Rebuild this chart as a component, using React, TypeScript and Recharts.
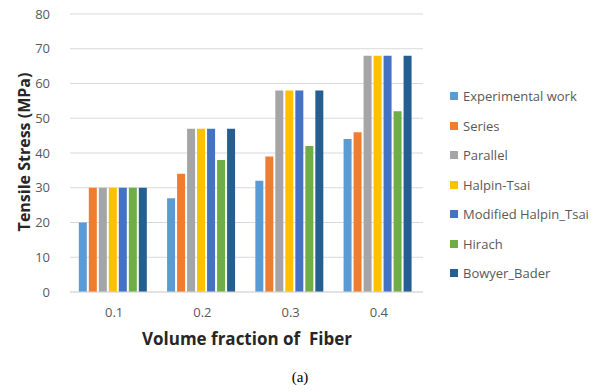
import { BarChart, Bar, XAxis, YAxis, CartesianGrid } from "recharts"

const categories = ["0.1", "0.2", "0.3", "0.4"]
const seriesNames = [
  "Experimental work",
  "Series",
  "Parallel",
  "Halpin-Tsai",
  "Modified Halpin_Tsai",
  "Hirach",
  "Bowyer_Bader",
]
const colors = ["#5B9BD5", "#ED7D31", "#A5A5A5", "#FFC000", "#4472C4", "#70AD47", "#255E91"]

const experimental = [20, 27, 32, 44]
const series = [30, 34, 39, 46]
const parallel = [30, 47, 58, 68]
const halpinTsai = [30, 47, 58, 68]
const modifiedHalpin = [30, 47, 58, 68]
const hirach = [30, 38, 42, 52]
const bowyerBader = [30, 47, 58, 68]

const yTicks = [0, 10, 20, 30, 40, 50, 60, 70, 80]

const values = [experimental, series, parallel, halpinTsai, modifiedHalpin, hirach, bowyerBader]

const data = categories.map((c, i) => {
  const row: Record<string, string | number> = { name: c }
  seriesNames.forEach((s, j) => {
    row[s] = values[j][i]
  })
  return row
})

const font = "'Open Sans', 'Liberation Sans', sans-serif"

export default function App() {
  return (
    <div
      style={{
        position: "absolute",
        left: 0,
        top: 0,
        width: 606,
        height: 392,
        background: "#fff",
        fontFamily: font,
      }}
    >
      <BarChart
        width={440}
        height={330}
        data={data}
        margin={{ top: 14, right: 17, bottom: 8, left: 20 }}
        barCategoryGap="10%"
        barGap={2}
      >
        <CartesianGrid vertical={false} stroke="#d9d9d9" />
        <XAxis
          dataKey="name"
          axisLine={{ stroke: "#d9d9d9" }}
          tickLine={false}
          height={30}
          tickMargin={10}
          tick={{ fill: "#595959", fontSize: 13, fontFamily: font }}
        />
        <YAxis
          width={50}
          domain={[0, 80]}
          ticks={yTicks}
          axisLine={false}
          tickLine={false}
          tickMargin={14}
          tick={{ fill: "#595959", fontSize: 13, fontFamily: font }}
        />
        {seriesNames.map((s, i) => (
          <Bar key={s} dataKey={s} fill={colors[i]} isAnimationActive={false} />
        ))}
      </BarChart>
      <div
        style={{
          position: "absolute",
          left: 24,
          top: 152,
          transform: "translate(-50%, -50%) rotate(-90deg)",
          fontSize: 16,
          fontWeight: 700,
          color: "#262626",
          whiteSpace: "nowrap",
        }}
      >
        Tensile Stress (MPa)
      </div>
      <div
        style={{
          position: "absolute",
          left: 247,
          top: 338,
          transform: "translate(-50%, -50%)",
          fontSize: 17,
          fontWeight: 700,
          color: "#262626",
          whiteSpace: "nowrap",
        }}
      >
        Volume fraction of&nbsp; Fiber
      </div>
      <div
        style={{
          position: "absolute",
          left: 300,
          top: 377,
          transform: "translate(-50%, -50%)",
          fontSize: 15,
          fontFamily: "'Liberation Serif', serif",
          color: "#000",
        }}
      >
        (a)
      </div>
      {seriesNames.map((s, i) => (
        <div
          key={s}
          style={{
            position: "absolute",
            left: 450,
            top: 96 + i * 29.5,
            transform: "translateY(-50%)",
            display: "flex",
            alignItems: "center",
            fontSize: 13,
            color: "#595959",
            whiteSpace: "nowrap",
          }}
        >
          <span style={{ display: "inline-block", width: 8, height: 8, background: colors[i], marginRight: 5 }} />
          {s}
        </div>
      ))}
    </div>
  )
}
